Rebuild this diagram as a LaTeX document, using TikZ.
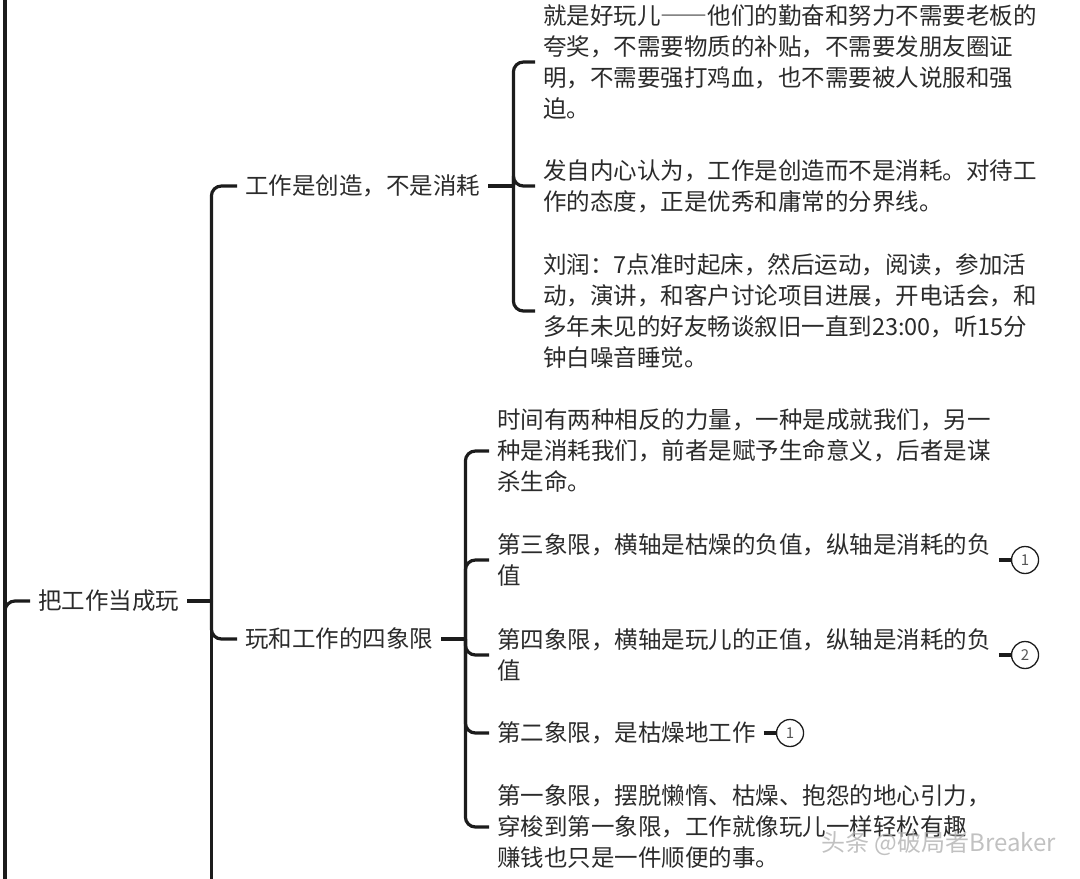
\documentclass[tikz,border=0pt]{standalone}
\usepackage{fontspec}
\setmainfont{Noto Sans CJK SC}
\usetikzlibrary{positioning}
\definecolor{ink}{HTML}{2B2B2B}
\definecolor{wire}{HTML}{1C1C1C}
\definecolor{tagink}{HTML}{555555}
\newcommand{\wdash}{{\addfontfeature{RawFeature=+fwid}——}}

\begin{document}
\begin{tikzpicture}[x=1pt,y=-1pt,font=\fontsize{23.5}{31}\selectfont,
    topic/.style={anchor=west,align=left,text=ink,inner xsep=8pt,inner ysep=2pt},
    wire/.style={draw=wire,line width=3.2pt,rounded corners=10pt},
    tagcirc/.style={circle,draw=wire,line width=1.3pt,minimum size=27pt,inner sep=0pt,
      text=tagink,font=\fontsize{15}{15}\selectfont}]
  \useasboundingbox (0,0) rectangle (1080,879);
  % topics
  \node[topic] (root) at (30,601) {把工作当成玩};
  \node[topic] (work) at (237,186) {工作是创造，不是消耗};
  \node[topic] (quad) at (237,639) {玩和工作的四象限};
  \node[topic] (fun) at (535,62) {就是好玩儿\wdash 他们的勤奋和努力不需要老板的\\夸奖，不需要物质的补贴，不需要发朋友圈证\\明，不需要强打鸡血，也不需要被人说服和强\\迫。};
  \node[topic] (view) at (535,186) {发自内心认为，工作是创造而不是消耗。对待工\\作的态度，正是优秀和庸常的分界线。};
  \node[topic] (liurun) at (535,311) {刘润：7点准时起床，然后运动，阅读，参加活\\动，演讲，和客户讨论项目进展，开电话会，和\\多年未见的好友畅谈叙旧一直到23:00，听15分\\钟白噪音睡觉。};
  \node[topic] (time) at (489,451) {时间有两种相反的力量，一种是成就我们，另一\\种是消耗我们，前者是赋予生命意义，后者是谋\\杀生命。};
  \node[topic] (third) at (489,560) {第三象限，横轴是枯燥的负值，纵轴是消耗的负\\值};
  \node[topic] (fourth) at (489,655) {第四象限，横轴是玩儿的正值，纵轴是消耗的负\\值};
  \node[topic] (second) at (489,733) {第二象限，是枯燥地工作};
  \node[topic] (first) at (489,827) {第一象限，摆脱懒惰、枯燥、抱怨的地心引力，\\穿梭到第一象限，工作就像玩儿一样轻松有趣\\赚钱也只是一件顺便的事。};
  \node[tagcirc,right=12pt of third.east] (tagthird) {1};
  \node[tagcirc,right=12pt of fourth.east] (tagfourth) {2};
  \node[tagcirc,right=12pt of second.east] (tagsecond) {1};
  % connectors
  \coordinate (rtop) at (5,0); \coordinate (rbot) at (5,879);
  \draw[wire] (rtop) -- (rbot); \draw[wire] (rbot) |- (root.west);
  \coordinate (s1) at ([xshift=24pt]root.east); \coordinate (s1bot) at (s1 |- rbot);
  \draw[wire] (root.east) -- (s1); \draw[wire] (s1) -- (s1bot);
  \draw[wire] (s1) |- (work.west); \draw[wire] (s1) |- (quad.west);
  \coordinate (s2) at ([xshift=25pt]work.east);
  \draw[wire] (work.east) -- (s2);
  \draw[wire] (s2) |- (fun.west); \draw[wire] (s2) |- (view.west);
  \draw[wire] (s2) |- (liurun.west);
  \coordinate (s3) at ([xshift=24pt]quad.east);
  \draw[wire] (quad.east) -- (s3);
  \foreach \kid in {time,third,fourth,second,first} \draw[wire] (s3) |- (\kid.west);
  \draw[wire] (third.east) -- (tagthird.west); \draw[wire] (fourth.east) -- (tagfourth.west);
  \draw[wire] (second.east) -- (tagsecond.west);
  % watermark
  \node[anchor=west,text=gray!60,opacity=.8,font=\fontsize{24}{24}\selectfont] (wm) at (818,843) {头条 @破局者Breaker};
\end{tikzpicture}
\end{document}
